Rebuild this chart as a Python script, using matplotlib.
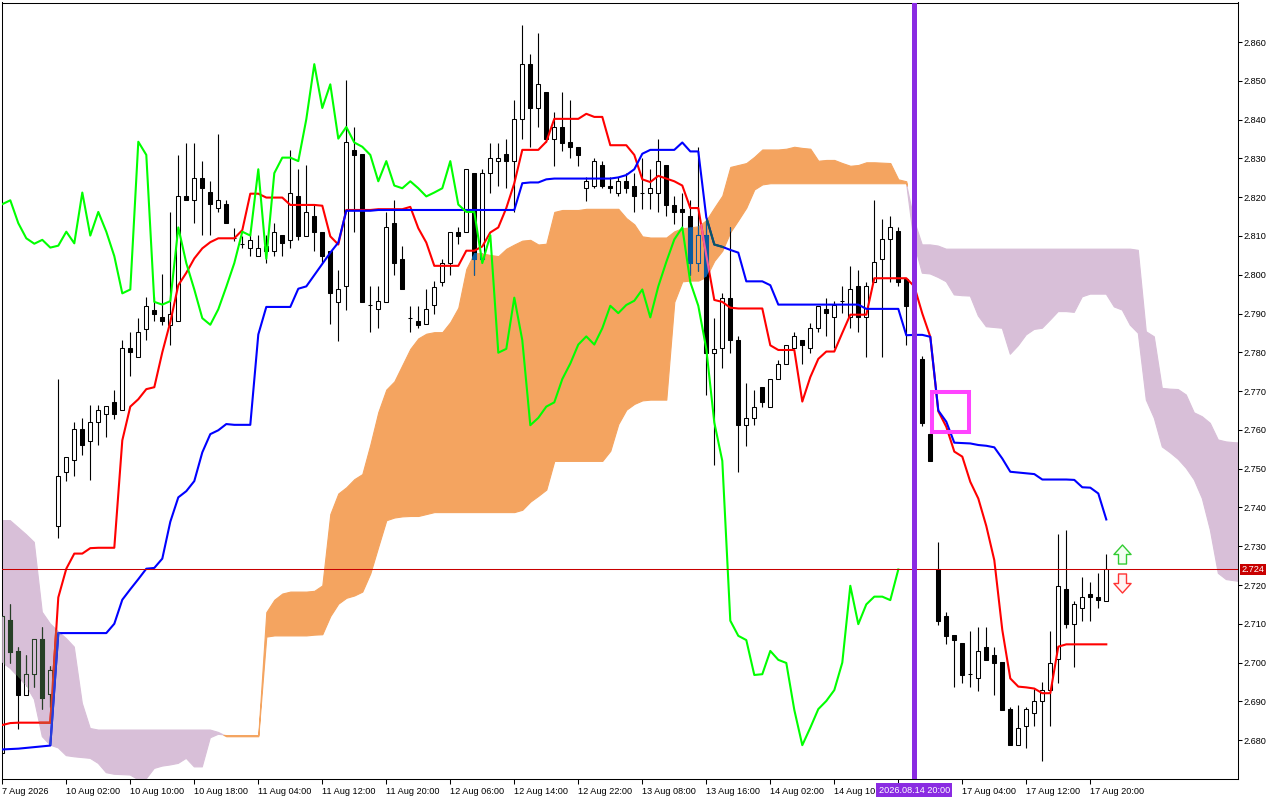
import numpy as np
import matplotlib
matplotlib.use("Agg")
import matplotlib.pyplot as plt
from matplotlib.path import Path
from matplotlib.patches import Rectangle
from matplotlib.transforms import blended_transform_factory

plt.rcParams['font.family'] = ['Liberation Sans', 'DejaVu Sans']
nan = float('nan')

# ---------------- data (H1 bars, index 0 = 7 Aug 2026) ----------------
opens = [2.6767, 2.7110, 2.7030, 2.6916, 2.6970, 2.7061, 2.6918, 2.7352, 2.7491, 2.7522,
         2.7602, 2.7571, 2.7621, 2.7640, 2.7671, 2.7650, 2.7810, 2.7789, 2.7860, 2.7910,
         2.7891, 2.7870, 2.7880, 2.8203, 2.8192, 2.8250, 2.8213, 2.8171, 2.8182, 2.8094,
         2.8080, 2.8070, 2.8049, 2.8060, 2.8060, 2.8102, 2.8090, 2.8202, 2.8101, 2.8151,
         2.8111, 2.8060, 2.7930, 2.7970, 2.8322, 2.8312, 2.7923, 2.7911, 2.7930, 2.8134,
         2.8041, 2.7888, 2.7880, 2.7872, 2.7922, 2.7981, 2.8030, 2.8111, 2.8111, 2.8262,
         2.8041, 2.8262, 2.8293, 2.8312, 2.8293, 2.8401, 2.8543, 2.8430, 2.8472, 2.8351,
         2.8381, 2.8343, 2.8330, 2.8223, 2.8230, 2.8283, 2.8230, 2.8212, 2.8241, 2.8230,
         2.8212, 2.8212, 2.8212, 2.8283, 2.8181, 2.8170, 2.8151, 2.8030, 2.8102, 2.7799,
         2.7810, 2.7941, 2.7831, 2.7612, 2.7631, 2.7710, 2.7660, 2.7731, 2.7771, 2.7810,
         2.7831, 2.7810, 2.7862, 2.7912, 2.7890, 2.7933, 2.7890, 2.7970, 2.7890, 2.7981,
         2.8041, 2.8091, 2.8112, 2.7988, nan, 2.7783, 2.7590, 2.7240, 2.7121, 2.7071,
         2.7050, 2.6970, 2.6959, 2.7040, 2.7019, 2.7002, 2.6880, 2.6787, 2.6837, 2.6869,
         2.6901, 2.6929, 2.7009, 2.7190, 2.7099, 2.7140, 2.7178, 2.7170, 2.7160]
highs = [2.7120, 2.7150, 2.7041, 2.7019, 2.7060, 2.7092, 2.6992, 2.7731, 2.7531, 2.7621,
         2.7631, 2.7663, 2.7663, 2.7661, 2.7703, 2.7831, 2.7852, 2.7889, 2.7942, 2.7942,
         2.8002, 2.8163, 2.8310, 2.8341, 2.8341, 2.8294, 2.8241, 2.8363, 2.8192, 2.8120,
         2.8099, 2.8104, 2.8102, 2.8102, 2.8134, 2.8102, 2.8322, 2.8272, 2.8283, 2.8183,
         2.8111, 2.8060, 2.8013, 2.8501, 2.8381, 2.8312, 2.7970, 2.7970, 2.8162, 2.8194,
         2.8073, 2.7920, 2.7920, 2.7962, 2.7983, 2.8041, 2.8111, 2.8122, 2.8272, 2.8262,
         2.8272, 2.8341, 2.8341, 2.8351, 2.8451, 2.8644, 2.8570, 2.8623, 2.8472, 2.8420,
         2.8472, 2.8451, 2.8330, 2.8251, 2.8302, 2.8293, 2.8251, 2.8251, 2.8262, 2.8262,
         2.8302, 2.8272, 2.8351, 2.8283, 2.8202, 2.8212, 2.8194, 2.8330, 2.8141, 2.7889,
         2.7952, 2.8123, 2.7841, 2.7720, 2.7702, 2.7710, 2.7731, 2.7781, 2.7820, 2.7852,
         2.7831, 2.7875, 2.7920, 2.7941, 2.7933, 2.7970, 2.8023, 2.8012, 2.7981, 2.8194,
         2.8143, 2.8151, 2.8122, 2.7988, nan, 2.7790, 2.7595, 2.7312, 2.7131, 2.7071,
         2.7050, 2.7081, 2.7092, 2.7092, 2.7041, 2.7002, 2.6886, 2.6890, 2.6886, 2.6931,
         2.6951, 2.7081, 2.7331, 2.7342, 2.7159, 2.7220, 2.7209, 2.7230, 2.7280]
lows = [2.6767, 2.6999, 2.6828, 2.6916, 2.6938, 2.6879, 2.6886, 2.7321, 2.7468, 2.7481,
        2.7536, 2.7470, 2.7561, 2.7581, 2.7629, 2.7650, 2.7740, 2.7789, 2.7831, 2.7880,
        2.7870, 2.7820, 2.7880, 2.8192, 2.8133, 2.8102, 2.8102, 2.8163, 2.8133, 2.8088,
        2.8068, 2.8049, 2.8049, 2.8030, 2.8049, 2.8049, 2.8069, 2.8090, 2.8101, 2.8060,
        2.8030, 2.7873, 2.7830, 2.7909, 2.8111, 2.7930, 2.7852, 2.7862, 2.7930, 2.7999,
        2.7962, 2.7852, 2.7862, 2.7872, 2.7899, 2.7970, 2.7999, 2.8080, 2.8111, 2.7999,
        2.8041, 2.8212, 2.8230, 2.8223, 2.8162, 2.8351, 2.8330, 2.8381, 2.8343, 2.8281,
        2.8320, 2.8302, 2.8281, 2.8191, 2.8223, 2.8223, 2.8212, 2.8202, 2.8212, 2.8162,
        2.8170, 2.8170, 2.8162, 2.8151, 2.8130, 2.8120, 2.7999, 2.8009, 2.7690, 2.7510,
        2.7760, 2.7799, 2.7491, 2.7559, 2.7612, 2.7660, 2.7660, 2.7731, 2.7771, 2.7810,
        2.7771, 2.7799, 2.7852, 2.7841, 2.7810, 2.7901, 2.7862, 2.7852, 2.7789, 2.7981,
        2.7789, 2.7981, 2.7971, 2.7820, nan, 2.7611, 2.7520, 2.7097, 2.7048, 2.6938,
        2.6948, 2.6938, 2.6927, 2.7007, 2.6916, 2.6878, 2.6787, 2.6787, 2.6779, 2.6837,
        2.6747, 2.6837, 2.6948, 2.7090, 2.6989, 2.7108, 2.7108, 2.7140, 2.7160]
closes = [2.7120, 2.7028, 2.6916, 2.6970, 2.7060, 2.6909, 2.6981, 2.7481, 2.7531, 2.7602,
          2.7561, 2.7621, 2.7650, 2.7661, 2.7640, 2.7810, 2.7800, 2.7852, 2.7920, 2.7899,
          2.7880, 2.7899, 2.8203, 2.8192, 2.8250, 2.8224, 2.8182, 2.8192, 2.8133, 2.8094,
          2.8080, 2.8090, 2.8070, 2.8075, 2.8111, 2.8081, 2.8212, 2.8101, 2.8162, 2.8111,
          2.8048, 2.7952, 2.7962, 2.8343, 2.8309, 2.7930, 2.7923, 2.7932, 2.8122, 2.8030,
          2.7962, 2.7888, 2.7871, 2.7911, 2.7969, 2.8030, 2.8111, 2.8101, 2.8272, 2.8041,
          2.8262, 2.8302, 2.8302, 2.8293, 2.8401, 2.8543, 2.8430, 2.8491, 2.8351, 2.8381,
          2.8341, 2.8330, 2.8309, 2.8241, 2.8293, 2.8230, 2.8223, 2.8241, 2.8223, 2.8202,
          2.8212, 2.8223, 2.8293, 2.8181, 2.8162, 2.8162, 2.8030, 2.8102, 2.7799, 2.7809,
          2.7941, 2.7831, 2.7612, 2.7631, 2.7660, 2.7671, 2.7731, 2.7771, 2.7820, 2.7841,
          2.7820, 2.7862, 2.7920, 2.7901, 2.7922, 2.7933, 2.7962, 2.7890, 2.7970, 2.8033,
          2.8091, 2.8122, 2.7981, 2.7920, nan, 2.7619, 2.7520, 2.7108, 2.7069, 2.7058,
          2.6968, 2.6970, 2.7030, 2.7007, 2.6999, 2.6878, 2.6787, 2.6832, 2.6880, 2.6901,
          2.6929, 2.7000, 2.7198, 2.7099, 2.7150, 2.7170, 2.7170, 2.7161, 2.7240]

tenkan = [2.6839, 2.6844, 2.6845, 2.6845, 2.6845, 2.6845, 2.6845, 2.7168, 2.7242, 2.7281,
          2.7281, 2.7295, 2.7296, 2.7296, 2.7296, 2.7573, 2.7660, 2.7679, 2.7705, 2.7710,
          2.7800, 2.7878, 2.7973, 2.8005, 2.8042, 2.8068, 2.8084, 2.8094, 2.8094, 2.8094,
          2.8115, 2.8209, 2.8209, 2.8199, 2.8199, 2.8199, 2.8180, 2.8180, 2.8180, 2.8180,
          2.8178, 2.8099, 2.8078, 2.8167, 2.8167, 2.8167, 2.8167, 2.8169, 2.8169, 2.8169,
          2.8169, 2.8175, 2.8120, 2.8083, 2.8023, 2.8023, 2.8023, 2.8023, 2.8062, 2.8062,
          2.8073, 2.8109, 2.8122, 2.8172, 2.8236, 2.8322, 2.8322, 2.8322, 2.8343, 2.8402,
          2.8402, 2.8402, 2.8402, 2.8415, 2.8407, 2.8407, 2.8334, 2.8334, 2.8334, 2.8309,
          2.8246, 2.8239, 2.8255, 2.8248, 2.8241, 2.8230, 2.8172, 2.8172, 2.8050, 2.7935,
          2.7930, 2.7915, 2.7913, 2.7913, 2.7913, 2.7913, 2.7818, 2.7806, 2.7806, 2.7806,
          2.7673, 2.7736, 2.7783, 2.7802, 2.7802, 2.7850, 2.7897, 2.7897, 2.7897, 2.7991,
          2.7991, 2.7991, 2.7991, 2.7991, 2.7970, 2.7900, 2.7840, 2.7648, 2.7608, 2.7544,
          2.7531, 2.7466, 2.7423, 2.7352, 2.7264, 2.7084, 2.6959, 2.6938, 2.6936, 2.6933,
          2.6921, 2.6921, 2.7041, 2.7047, 2.7047, 2.7047, 2.7047, 2.7047, 2.7047]
kijun = [2.6776, 2.6777, 2.6778, 2.6780, 2.6782, 2.6784, 2.6786, 2.7076, 2.7076, 2.7076,
         2.7076, 2.7076, 2.7076, 2.7076, 2.7100, 2.7162, 2.7189, 2.7215, 2.7242, 2.7244,
         2.7268, 2.7363, 2.7426, 2.7442, 2.7468, 2.7542, 2.7589, 2.7599, 2.7615, 2.7613,
         2.7613, 2.7613, 2.7846, 2.7917, 2.7917, 2.7917, 2.7917, 2.7964, 2.7970, 2.7999,
         2.8028, 2.8057, 2.8083, 2.8165, 2.8165, 2.8165, 2.8165, 2.8167, 2.8167, 2.8167,
         2.8167, 2.8167, 2.8167, 2.8167, 2.8167, 2.8167, 2.8167, 2.8167, 2.8167, 2.8167,
         2.8167, 2.8167, 2.8167, 2.8167, 2.8167, 2.8236, 2.8238, 2.8238, 2.8246, 2.8248,
         2.8248, 2.8248, 2.8248, 2.8248, 2.8248, 2.8248, 2.8248, 2.8251, 2.8257, 2.8272,
         2.8312, 2.8322, 2.8322, 2.8322, 2.8322, 2.8341, 2.8318, 2.8318, 2.8148, 2.8078,
         2.8072, 2.8064, 2.8057, 2.7983, 2.7983, 2.7983, 2.7973, 2.7923, 2.7923, 2.7923,
         2.7923, 2.7923, 2.7923, 2.7923, 2.7923, 2.7923, 2.7923, 2.7923, 2.7912, 2.7912,
         2.7912, 2.7912, 2.7912, 2.7844, 2.7845, 2.7845, 2.7840, 2.7650, 2.7621, 2.7567,
         2.7566, 2.7565, 2.7561, 2.7559, 2.7555, 2.7526, 2.7492, 2.7490, 2.7488, 2.7486,
         2.7472, 2.7472, 2.7472, 2.7472, 2.7471, 2.7452, 2.7451, 2.7436, 2.7369]
chikou = [2.8182, 2.8192, 2.8133, 2.8094, 2.8080, 2.8090, 2.8070, 2.8075, 2.8111, 2.8081,
          2.8212, 2.8101, 2.8162, 2.8111, 2.8048, 2.7952, 2.7962, 2.8343, 2.8309, 2.7930,
          2.7923, 2.7932, 2.8122, 2.8030, 2.7962, 2.7888, 2.7871, 2.7911, 2.7969, 2.8030,
          2.8111, 2.8101, 2.8272, 2.8041, 2.8262, 2.8302, 2.8302, 2.8293, 2.8401, 2.8543,
          2.8430, 2.8491, 2.8351, 2.8381, 2.8341, 2.8330, 2.8309, 2.8241, 2.8293, 2.8230,
          2.8223, 2.8241, 2.8223, 2.8202, 2.8212, 2.8223, 2.8293, 2.8181, 2.8162, 2.8162,
          2.8030, 2.8102, 2.7799, 2.7809, 2.7941, 2.7831, 2.7612, 2.7631, 2.7660, 2.7671,
          2.7731, 2.7771, 2.7820, 2.7841, 2.7820, 2.7862, 2.7920, 2.7901, 2.7922, 2.7933,
          2.7962, 2.7890, 2.7970, 2.8033, 2.8091, 2.8122, 2.7981, 2.7920, 2.7809, 2.7619,
          2.7520, 2.7108, 2.7069, 2.7058, 2.6968, 2.6970, 2.7030, 2.7007, 2.6999, 2.6878,
          2.6787, 2.6832, 2.6880, 2.6901, 2.6929, 2.7000, 2.7198, 2.7099, 2.7150, 2.7170,
          2.7170, 2.7161, 2.7240]
span_a = [2.7000, 2.6985, 2.6963, 2.6940, 2.6905, 2.6809, 2.6787, 2.6780, 2.6760, 2.6757,
          2.6755, 2.6753, 2.6740, 2.6716, 2.6712, 2.6711, 2.6710, 2.6698, 2.6700, 2.6727,
          2.6733, 2.6736, 2.6740, 2.6753, 2.6731, 2.6731, 2.6806, 2.6815, 2.6813, 2.6813,
          2.6813, 2.6813, 2.6813, 2.7130, 2.7162, 2.7178, 2.7183, 2.7183, 2.7183, 2.7185,
          2.7199, 2.7383, 2.7436, 2.7452, 2.7473, 2.7486, 2.7562, 2.7646, 2.7704, 2.7725,
          2.7767, 2.7809, 2.7836, 2.7848, 2.7852, 2.7852, 2.7878, 2.7915, 2.8015, 2.8056,
          2.8055, 2.8051, 2.8048, 2.8067, 2.8078, 2.8088, 2.8090, 2.8078, 2.8080, 2.8162,
          2.8167, 2.8167, 2.8167, 2.8170, 2.8170, 2.8170, 2.8170, 2.8170, 2.8146, 2.8130,
          2.8099, 2.8096, 2.8096, 2.8096, 2.8112, 2.8120, 2.8122, 2.8125, 2.8141, 2.8173,
          2.8204, 2.8278, 2.8283, 2.8288, 2.8304, 2.8323, 2.8323, 2.8323, 2.8325, 2.8330,
          2.8327, 2.8325, 2.8294, 2.8296, 2.8296, 2.8288, 2.8281, 2.8283, 2.8290, 2.8290,
          2.8289, 2.8288, 2.8246, 2.8241, 2.8080, 2.8004, 2.8002, 2.7993, 2.7982, 2.7948,
          2.7946, 2.7945, 2.7894, 2.7866, 2.7864, 2.7862, 2.7795, 2.7817, 2.7845, 2.7859,
          2.7862, 2.7883, 2.7905, 2.7905, 2.7903, 2.7943, 2.7950, 2.7950, 2.7950, 2.7917,
          2.7909, 2.7870, 2.7849, 2.7677, 2.7630, 2.7556, 2.7541, 2.7524, 2.7501, 2.7471,
          2.7423, 2.7342, 2.7230, 2.7214, 2.7211, 2.7208]
span_b = [2.7366, 2.7366, 2.7348, 2.7330, 2.7310, 2.7130, 2.7100, 2.7080, 2.7062, 2.7040,
          2.6895, 2.6830, 2.6826, 2.6826, 2.6826, 2.6826, 2.6826, 2.6826, 2.6826, 2.6826,
          2.6826, 2.6826, 2.6826, 2.6826, 2.6826, 2.6826, 2.6826, 2.6820, 2.6810, 2.6810,
          2.6810, 2.6810, 2.6810, 2.7067, 2.7070, 2.7070, 2.7070, 2.7070, 2.7070, 2.7072,
          2.7073, 2.7120, 2.7152, 2.7167, 2.7173, 2.7183, 2.7230, 2.7299, 2.7367, 2.7374,
          2.7377, 2.7378, 2.7378, 2.7383, 2.7388, 2.7388, 2.7388, 2.7388, 2.7388, 2.7388,
          2.7388, 2.7388, 2.7388, 2.7388, 2.7388, 2.7394, 2.7415, 2.7430, 2.7446, 2.7520,
          2.7520, 2.7520, 2.7520, 2.7520, 2.7520, 2.7520, 2.7546, 2.7615, 2.7652, 2.7667,
          2.7676, 2.7678, 2.7678, 2.7678, 2.7930, 2.7983, 2.7985, 2.7985, 2.7995, 2.8036,
          2.8062, 2.8110, 2.8141, 2.8173, 2.8220, 2.8233, 2.8236, 2.8236, 2.8236, 2.8236,
          2.8236, 2.8236, 2.8236, 2.8236, 2.8236, 2.8236, 2.8236, 2.8236, 2.8236, 2.8236,
          2.8236, 2.8236, 2.8236, 2.8236, 2.8140, 2.8077, 2.8077, 2.8074, 2.8066, 2.8066,
          2.8066, 2.8066, 2.8066, 2.8066, 2.8066, 2.8066, 2.8066, 2.8066, 2.8066, 2.8066,
          2.8066, 2.8066, 2.8066, 2.8066, 2.8066, 2.8066, 2.8066, 2.8066, 2.8066, 2.8066,
          2.8066, 2.8066, 2.8063, 2.7853, 2.7840, 2.7707, 2.7705, 2.7704, 2.7690, 2.7644,
          2.7634, 2.7617, 2.7574, 2.7569, 2.7567, 2.7566]

x_tick_bars = [0, 8, 16, 24, 32, 40, 48, 56, 64, 72, 80, 88, 96, 104, 112, 120, 128, 136]
x_tick_labels = ['7 Aug 2026', '10 Aug 02:00', '10 Aug 10:00', '10 Aug 18:00', '11 Aug 04:00',
                 '11 Aug 12:00', '11 Aug 20:00', '12 Aug 06:00', '12 Aug 14:00', '12 Aug 22:00',
                 '13 Aug 08:00', '13 Aug 16:00', '14 Aug 02:00', '14 Aug 10:00', '',
                 '17 Aug 04:00', '17 Aug 12:00', '17 Aug 20:00']
y_ticks = [2.680, 2.690, 2.700, 2.710, 2.720, 2.730, 2.740, 2.750, 2.760,
           2.770, 2.780, 2.790, 2.800, 2.810, 2.820, 2.830, 2.840, 2.850, 2.860]

bid_price = 2.724
vline_bar = 114
vline_label = '2026.08.14 20:00'
rect_bars = (116.25, 120.84)
rect_prices = (2.7595, 2.7698)
arrow_bar = 140
arrow_up_price = 2.7281
arrow_down_price = 2.7206

# ---------------- colours ----------------
C_ORANGE = '#F4A460'
C_THISTLE = '#D8BFD8'
XOR = {  # MT5 draws the kumo as an XOR-style fill over candles and tenkan/kijun
    'orange': {'dark': '#0B5B9F', 'red': '#F45B9F', 'blue': '#0B5B60', 'face': C_ORANGE},
    'purple': {'dark': '#274027', 'red': '#D84027', 'blue': '#2740D8', 'face': C_THISTLE},
}

# ---------------- figure ----------------
fig = plt.figure(figsize=(12.8, 8), dpi=100)
ax = fig.add_axes([2.3 / 1280, 1 - 779.3 / 800, 1235.2 / 1280, 776.8 / 800])
ax.set_facecolor('white')

o = np.array(opens); h = np.array(highs); l = np.array(lows); c = np.array(closes)
xb = np.arange(len(c))
A = np.array(span_a); B = np.array(span_b)
xs = np.arange(len(A))

orange = ax.fill_between(xs, A, B, where=A >= B, interpolate=True, facecolor=C_ORANGE,
                         edgecolor=C_ORANGE, linewidth=0.8, zorder=1)
purple = ax.fill_between(xs, A, B, where=B > A, interpolate=True, facecolor=C_THISTLE,
                         edgecolor=C_THISTLE, linewidth=0.8, zorder=1)
clip_paths = {
    'orange': Path.make_compound_path(*orange.get_paths()),
    'purple': Path.make_compound_path(*purple.get_paths()),
}

valid = ~np.isnan(c)


def draw_candles(face_up, face_dn, edge, z, clip=None):
    up = c >= o
    bottoms = np.minimum(o, c)
    heights = np.abs(c - o)
    wick = ax.vlines(xb[valid], l[valid], h[valid], colors=edge, linewidth=0.8, zorder=z)
    faces = [face_up if u else face_dn for u in up[valid]]
    bars = ax.bar(xb[valid], heights[valid], bottom=bottoms[valid], width=0.5,
                  color=faces, edgecolor=edge, linewidth=0.75, zorder=z + 0.05)
    if clip is not None:
        wick.set_clip_path(clip, ax.transData)
        for p in bars.patches:
            p.set_clip_path(clip, ax.transData)


def draw_lines(col_red, col_blue, z, clip=None):
    lr, = ax.plot(xb, tenkan, color=col_red, lw=1.5, zorder=z)
    lb, = ax.plot(xb, kijun, color=col_blue, lw=1.5, zorder=z)
    if clip is not None:
        lr.set_clip_path(clip, ax.transData)
        lb.set_clip_path(clip, ax.transData)


draw_candles('white', 'black', 'black', 2)
draw_lines('#FF0000', '#0000FF', 3)
for key, cols in XOR.items():
    draw_candles(cols['face'], cols['dark'], cols['dark'], 3.5, clip_paths[key])
    draw_lines(cols['red'], cols['blue'], 4, clip_paths[key])

ax.plot(np.arange(len(chikou)), chikou, color='#00FF00', lw=1.5, zorder=5)

# objects
ax.axhline(bid_price, color='#C80000', lw=0.75, zorder=6)
ax.axvline(vline_bar, color='#8A2BE2', lw=3.6, zorder=7)
ax.add_patch(Rectangle((rect_bars[0], rect_prices[0]), rect_bars[1] - rect_bars[0],
                       rect_prices[1] - rect_prices[0], fill=False, edgecolor='#FF44FF',
                       linewidth=2.9, zorder=8))

up_path = Path([(-0.9, 0.0), (0.0, 1.0), (0.9, 0.0), (0.42, 0.0), (0.42, -1.0),
                (-0.42, -1.0), (-0.42, 0.0), (-0.9, 0.0)], closed=True)
dn_path = Path([(xv, -yv) for xv, yv in up_path.vertices], closed=True)
ax.plot([arrow_bar], [arrow_up_price], ls='none', marker=up_path, markersize=13.7,
        markerfacecolor='#F4FFF4', markeredgecolor='#33CC33', markeredgewidth=1.0, zorder=9)
ax.plot([arrow_bar], [arrow_down_price], ls='none', marker=dn_path, markersize=13.7,
        markerfacecolor='#FFF4F4', markeredgecolor='#FF3333', markeredgewidth=1.0, zorder=9)

# axes
ax.set_xlim(0, 154.4)
ax.set_ylim(2.6699, 2.8702)
ax.yaxis.tick_right()
ax.set_yticks(y_ticks)
ax.set_yticklabels([f'{v:.3f}' for v in y_ticks])
ax.set_xticks(x_tick_bars)
ax.set_xticklabels(x_tick_labels, ha='left')
ax.tick_params(axis='y', direction='out', length=3, width=0.75, pad=1.2, labelsize=6.6,
               colors='black')
ax.tick_params(axis='x', direction='out', length=3.5, width=0.75, pad=2, labelsize=6.6,
               colors='black')
for s in ax.spines.values():
    s.set_linewidth(0.75)
    s.set_color('black')

tr = blended_transform_factory(ax.transData, ax.transAxes)
ax.text(vline_bar, -0.0138, vline_label, transform=tr, ha='center', va='center',
        color='white', fontsize=6.6, clip_on=False, zorder=20,
        bbox=dict(boxstyle='square,pad=0.25', facecolor='#8A2BE2', edgecolor='none'))
ax.annotate(f'{bid_price:.3f}', xy=(1.0, bid_price), xycoords=('axes fraction', 'data'),
            xytext=(2.7, 0), textcoords='offset points', ha='left', va='center',
            color='white', fontsize=6.6, zorder=20, annotation_clip=False,
            bbox=dict(boxstyle='square,pad=0.15', facecolor='#C80000', edgecolor='none'))

fig.savefig('out.png', dpi=100, facecolor='white')
